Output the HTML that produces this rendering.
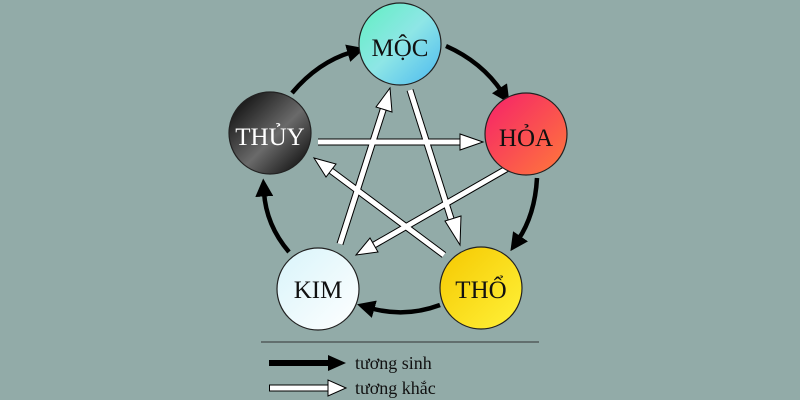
<!DOCTYPE html>
<html><head><meta charset="utf-8"><style>
html,body{margin:0;padding:0;background:#92aba8;}
svg{display:block;}
text{font-family:"Liberation Serif",serif;}
</style></head><body>
<svg width="800" height="400" viewBox="0 0 800 400" xmlns="http://www.w3.org/2000/svg">
<defs>
<linearGradient id="gm" x1="0" y1="0" x2="1" y2="1"><stop offset="0" stop-color="#5ff0c0"/><stop offset="0.5" stop-color="#8ee6e6"/><stop offset="1" stop-color="#4ab8f0"/></linearGradient>
<linearGradient id="gh" x1="0" y1="0" x2="1" y2="1"><stop offset="0" stop-color="#f5206a"/><stop offset="1" stop-color="#ff7a3a"/></linearGradient>
<linearGradient id="gt" x1="0" y1="0" x2="1" y2="1"><stop offset="0" stop-color="#000"/><stop offset="0.55" stop-color="#6a6a6a"/><stop offset="1" stop-color="#000"/></linearGradient>
<linearGradient id="gk" x1="0" y1="0" x2="1" y2="1"><stop offset="0" stop-color="#d8f4fa"/><stop offset="1" stop-color="#ffffff"/></linearGradient>
<linearGradient id="go" x1="0" y1="0" x2="1" y2="1"><stop offset="0" stop-color="#f5c800"/><stop offset="1" stop-color="#fff23a"/></linearGradient>
<marker id="bh" markerWidth="4" markerHeight="4" refX="1" refY="2" orient="auto" markerUnits="strokeWidth"><path d="M0,0 L4,2 L0,4 z" fill="#000"/></marker>
</defs>
<g fill="none" stroke="#000" stroke-width="4.5">
<path d="M292,93 Q318,62 352,52" marker-end="url(#bh)"/>
<path d="M446,46 Q482,62 502,92" marker-end="url(#bh)"/>
<path d="M537,178 Q535,215 518,240" marker-end="url(#bh)"/>
<path d="M440,305 Q405,318 370,308" marker-end="url(#bh)"/>
<path d="M289,252 Q266,225 264,192" marker-end="url(#bh)"/>
</g>
<g stroke-linejoin="miter">
<g stroke="#000" stroke-width="7" fill="none">
<line x1="410" y1="90" x2="453" y2="225"/>
<line x1="318" y1="142" x2="462" y2="142"/>
<line x1="340" y1="244" x2="384" y2="107"/>
<line x1="444" y1="255" x2="330" y2="170"/>
<line x1="508" y1="168" x2="374" y2="245"/>
</g>
<g stroke="#fff" stroke-width="5" fill="none">
<line x1="410" y1="90" x2="453" y2="225"/>
<line x1="318" y1="142" x2="462" y2="142"/>
<line x1="340" y1="244" x2="384" y2="107"/>
<line x1="444" y1="255" x2="330" y2="170"/>
<line x1="508" y1="168" x2="374" y2="245"/>
</g>
<g fill="#fff" stroke="#000" stroke-width="1">
<polygon points="460,245 445,221 461,216"/>
<polygon points="483,142 460,134 460,150"/>
<polygon points="390,88 392,112 376,107"/>
<polygon points="314,158 326,177 336,164"/>
<polygon points="356,255 370,238 378,252"/>
</g>
</g>
<g stroke="#222" stroke-width="1.2">
<circle cx="400" cy="44" r="41" fill="url(#gm)"/>
<circle cx="526" cy="134" r="41" fill="url(#gh)"/>
<circle cx="270" cy="133" r="41" fill="url(#gt)"/>
<circle cx="318" cy="289" r="41" fill="url(#gk)"/>
<circle cx="481" cy="288" r="41" fill="url(#go)"/>
</g>
<g font-size="25" text-anchor="middle">
<text x="400" y="56" fill="#111">MỘC</text>
<text x="526" y="146" fill="#111">HỎA</text>
<text x="270" y="145" fill="#fff">THỦY</text>
<text x="318" y="298" fill="#111">KIM</text>
<text x="481" y="298" fill="#111">THỔ</text>
</g>
<line x1="261" y1="342" x2="539" y2="342" stroke="#333" stroke-width="1"/>
<line x1="269" y1="363" x2="330" y2="363" stroke="#000" stroke-width="6"/>
<polygon points="346,363 328,355 328,371" fill="#000"/>
<line x1="269" y1="388" x2="330" y2="388" stroke="#000" stroke-width="7"/>
<line x1="270" y1="388" x2="331" y2="388" stroke="#fff" stroke-width="5"/>
<polygon points="346,388 328,380 328,396" fill="#fff" stroke="#000" stroke-width="1"/>
<g font-size="18" fill="#111">
<text x="355" y="369">tương sinh</text>
<text x="355" y="394">tương khắc</text>
</g>
</svg>
</body></html>
